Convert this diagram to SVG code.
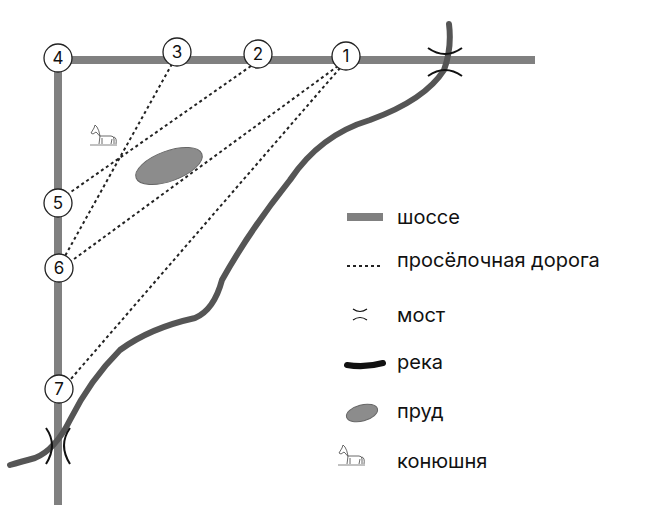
<svg xmlns="http://www.w3.org/2000/svg" width="665" height="514" viewBox="0 0 665 514">
<style>
.road{stroke:#808080;stroke-width:8;fill:none}
.dirt{stroke:#222;stroke-width:2;stroke-dasharray:3,3;fill:none}
.river{stroke:#555;stroke-width:6;fill:none;stroke-linecap:round}
.br{stroke:#111;stroke-width:2;fill:none}
.pond{fill:#8c8c8c;stroke:#666;stroke-width:1}
.nd circle{fill:#fff;stroke:#222;stroke-width:1.3}
text{font-family:"Inter","Liberation Sans",sans-serif;fill:#111}
.nd text{font-size:17px;text-anchor:middle}
.lg{font-size:20px}
</style>
<defs>
<g id="horse" stroke="#444" stroke-width="0.8" fill="none">
<path d="M5,1 L4,4 L1,9 L3,10 L6,8 L8,10 Q9,12 10,12 L21,12 Q24,12 24,15 L24,20 M22,15 L21,20 M10,12 L9,20 M12,14 L12,20 M24,13 Q27,14 26,20 M5,1 L7,3 Q9,6 10,12"/>
<path d="M0,21 L27,21" stroke="#666"/>
</g>
</defs>
<g id="roads">
<path class="road" d="M58,60 H535"/>
<path class="road" d="M58,60 V505"/>
</g>
<g id="river">
<path class="river" d="M449,24 Q452,48 444,70 Q425,100 370,120 Q320,135 290,180 Q250,230 222,280 Q214,310 195,318 Q150,328 120,350 Q90,380 70,420 Q55,450 35,458 Q20,462 10,465"/>
</g>
<g id="pond"><ellipse class="pond" cx="169" cy="166" rx="35" ry="15" transform="rotate(-20 169 166)"/></g>
<g id="stable"><use href="#horse" transform="translate(90,124)"/></g>
<g id="connectors">
<path class="dirt" d="M172,64 L65,256"/>
<path class="dirt" d="M251,66 L68,194"/>
<path class="dirt" d="M338,66 L70,262"/>
<path class="dirt" d="M340,68 L70,380"/>
</g>
<g id="bridges">
<path class="br" d="M428,48 Q445,60 462,48"/>
<path class="br" d="M428,76 Q445,64 462,76"/>
<path class="br" d="M46,428 Q58,445 46,464"/>
<path class="br" d="M70,428 Q58,445 70,464"/>
</g>
<g id="n4" class="nd"><circle cx="58" cy="58" r="14"/><text x="58" y="64">4</text></g>
<g id="n3" class="nd"><circle cx="177" cy="52" r="14"/><text x="177" y="58">3</text></g>
<g id="n2" class="nd"><circle cx="258" cy="54" r="14"/><text x="258" y="60">2</text></g>
<g id="n1" class="nd"><circle cx="346" cy="56" r="14"/><text x="346" y="62">1</text></g>
<g id="n5" class="nd"><circle cx="58" cy="203" r="14"/><text x="58" y="209">5</text></g>
<g id="n6" class="nd"><circle cx="59" cy="268" r="14"/><text x="59" y="274">6</text></g>
<g id="n7" class="nd"><circle cx="59" cy="389" r="14"/><text x="59" y="395">7</text></g>
<g id="legend">
<path class="road" d="M347,217 H383"/><text class="lg" x="397" y="224">шоссе</text>
<path class="dirt" d="M347,266 H383"/><text class="lg" x="397" y="267">просёлочная дорога</text>
<path class="br" style="stroke-width:1.2" d="M353,309 Q360,314 367,309 M353,320 Q360,315 367,320"/><text class="lg" x="397" y="322">мост</text>
<path class="river" style="stroke:#111" d="M347,365 Q365,368 383,363"/><text class="lg" x="397" y="369">река</text>
<ellipse class="pond" cx="362" cy="413" rx="16" ry="8" transform="rotate(-15 362 413)"/><text class="lg" x="397" y="418">пруд</text>
<use href="#horse" transform="translate(338,444)"/><text class="lg" x="397" y="468">конюшня</text>
</g>
</svg>
